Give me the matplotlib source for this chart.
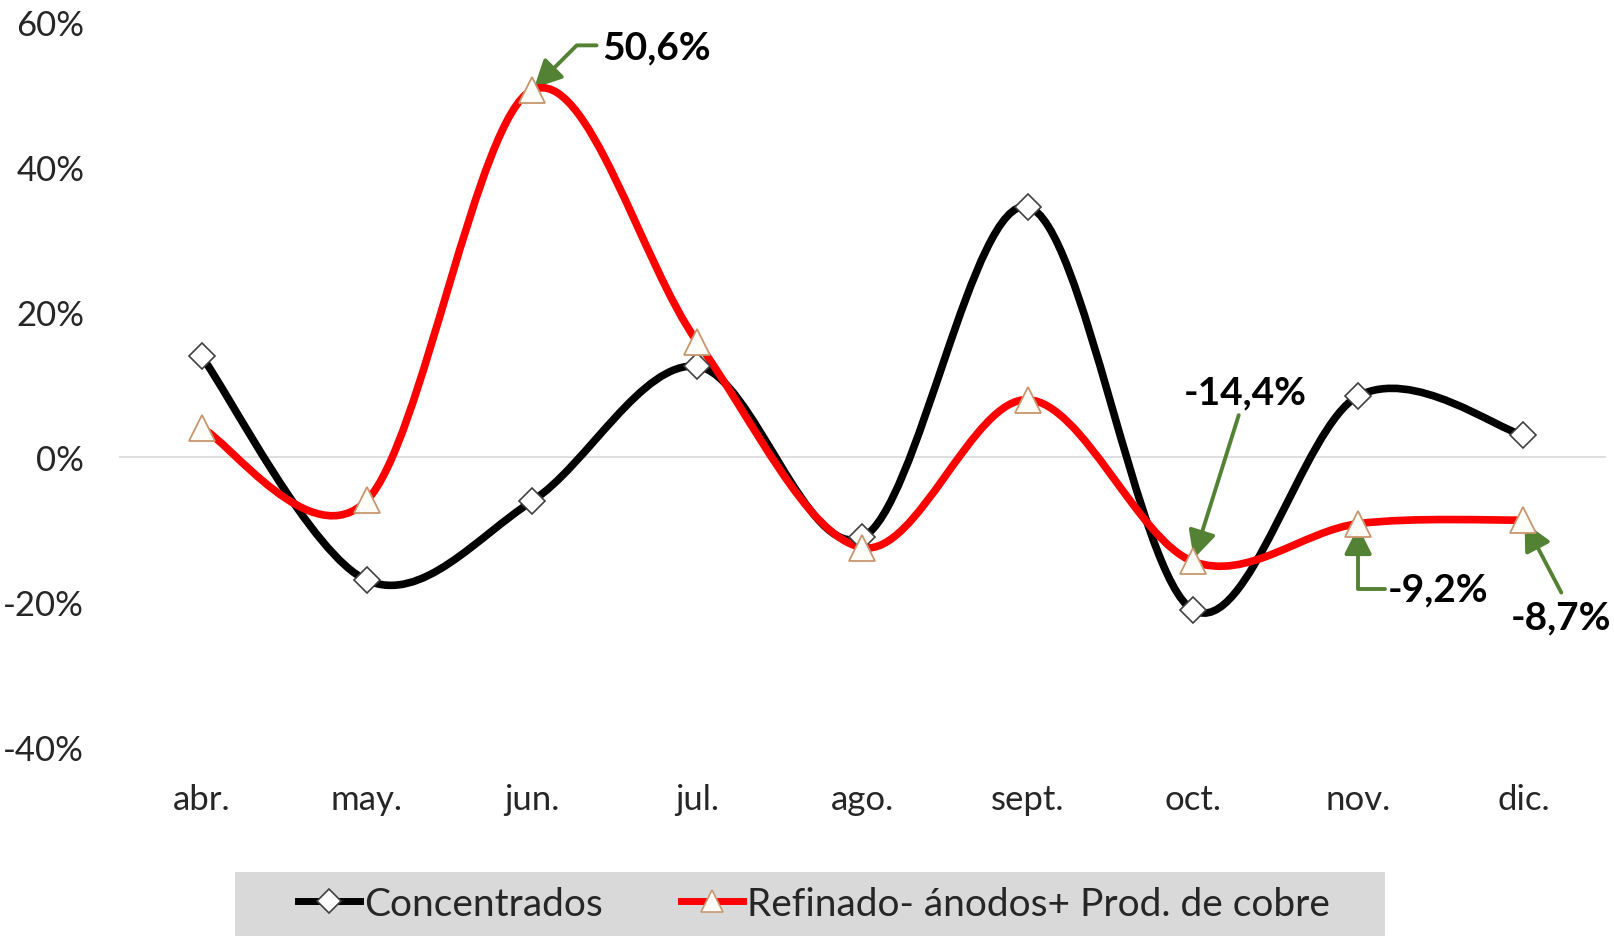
import numpy as np
import matplotlib.pyplot as plt
from matplotlib.path import Path
from matplotlib.patches import PathPatch, Rectangle
from matplotlib.lines import Line2D

plt.rcParams['font.family'] = ['Lato', 'DejaVu Sans']

months = ['abr.', 'may.', 'jun.', 'jul.', 'ago.', 'sept.', 'oct.', 'nov.', 'dic.']
concentrados = [13.9, -17.0, -6.1, 12.5, -11.1, 34.5, -21.1, 8.4, 3.0]
refinado = [4.0, -6.0, 50.6, 15.9, -12.5, 7.9, -14.4, -9.2, -8.7]

black = '#000000'
red = '#FF0000'
green = '#548235'


def smooth_path(x, y):
    # Excel-like smoothed line: cubic Bezier segments through the points
    x = np.asarray(x, float)
    y = np.asarray(y, float)
    verts = [(x[0], y[0])]
    codes = [Path.MOVETO]
    n = len(x)
    for i in range(n - 1):
        x0, y0 = (x[i - 1], y[i - 1]) if i > 0 else (x[i], y[i])
        x3, y3 = (x[i + 2], y[i + 2]) if i + 2 < n else (x[i + 1], y[i + 1])
        c1 = (x[i] + (x[i + 1] - x0) / 6, y[i] + (y[i + 1] - y0) / 6)
        c2 = (x[i + 1] - (x3 - x[i]) / 6, y[i + 1] - (y3 - y[i]) / 6)
        verts += [c1, c2, (x[i + 1], y[i + 1])]
        codes += [Path.CURVE4] * 3
    return Path(verts, codes)


fig = plt.figure(figsize=(16.14, 9.37), dpi=100)
ax = fig.add_axes([0.0737, 0.2017, 0.9213, 0.7738])

xs = np.arange(len(months))
ax.axhline(0, color='#D9D9D9', lw=1.2, zorder=1)

ax.add_patch(PathPatch(smooth_path(xs, concentrados), fill=False, ec=black, lw=5.5,
                       capstyle='round', zorder=3))
ax.add_patch(PathPatch(smooth_path(xs, refinado), fill=False, ec=red, lw=5.5,
                       capstyle='round', zorder=4))
ax.plot(xs, concentrados, ls='none', marker='D', ms=13.5, mfc='white', mec='#404040',
        mew=1.2, zorder=5)
ax.plot(xs, refinado, ls='none', marker='^', ms=19, mfc='#FFFDF8', mec='#C8966E',
        mew=1.3, zorder=6)

ax.set_xlim(-0.5, len(months) - 0.5)
ax.set_ylim(-40, 60)
ax.set_yticks([-40, -20, 0, 20, 40, 60])
ax.set_yticklabels([f'{v}%' for v in [-40, -20, 0, 20, 40, 60]])
ax.set_xticks(xs)
ax.set_xticklabels(months)
ax.tick_params(length=0, labelsize=25, colors='#262626')
ax.tick_params(axis='y', pad=25)
ax.tick_params(axis='x', pad=26)
for s in ax.spines.values():
    s.set_visible(False)

# annotations
ann = dict(fontsize=28, fontweight='bold', color='black')
arrow = dict(arrowstyle='-|>,head_length=0.6,head_width=0.3', color=green, lw=2.8,
             shrinkA=0, shrinkB=2)

ax.annotate('50,6%', xy=(2, 50.6), xytext=(70, 43), textcoords='offset pixels',
            ha='left', va='center', **ann,
            arrowprops=dict(relpos=(-0.05, 0.55),
                            connectionstyle='angle,angleA=0,angleB=45,rad=0', **arrow))
ax.annotate('-14,4%', xy=(6, -14.4), xytext=(52, 169), textcoords='offset pixels',
            ha='center', va='center', **ann,
            arrowprops=dict(relpos=(0.45, -0.15), **arrow))
ax.annotate('-9,2%', xy=(7, -9.2), xytext=(30, -65), textcoords='offset pixels',
            ha='left', va='center', **ann,
            arrowprops=dict(relpos=(0, 0.5), connectionstyle='angle,angleA=0,angleB=90,rad=0',
                            **arrow))
ax.annotate('-8,7%', xy=(8, -8.7), xytext=(38, -97), textcoords='offset pixels',
            ha='center', va='center', **ann,
            arrowprops=dict(relpos=(0.5, 1.2), **arrow))

# legend box
fig.patches.append(Rectangle((235 / 1614, 0), 1150 / 1614, 64 / 937, transform=fig.transFigure,
                             facecolor='#D9D9D9', edgecolor='none', zorder=0))
handles = [
    Line2D([], [], color=black, lw=5, marker='D', ms=12, mfc='white', mec='#404040', mew=1.2),
    Line2D([], [], color=red, lw=5, marker='^', ms=16, mfc='#FFFDF8', mec='#C8966E', mew=1.2),
]
fig.legend(handles, ['Concentrados', 'Refinado- ánodos+ Prod. de cobre'], loc='center',
           bbox_to_anchor=(814 / 1614, 32 / 937), ncol=2, frameon=False, fontsize=28,
           handlelength=1.6, handletextpad=0.1, columnspacing=2.0, labelcolor='#262626')

fig.savefig('out.png', dpi=100)
